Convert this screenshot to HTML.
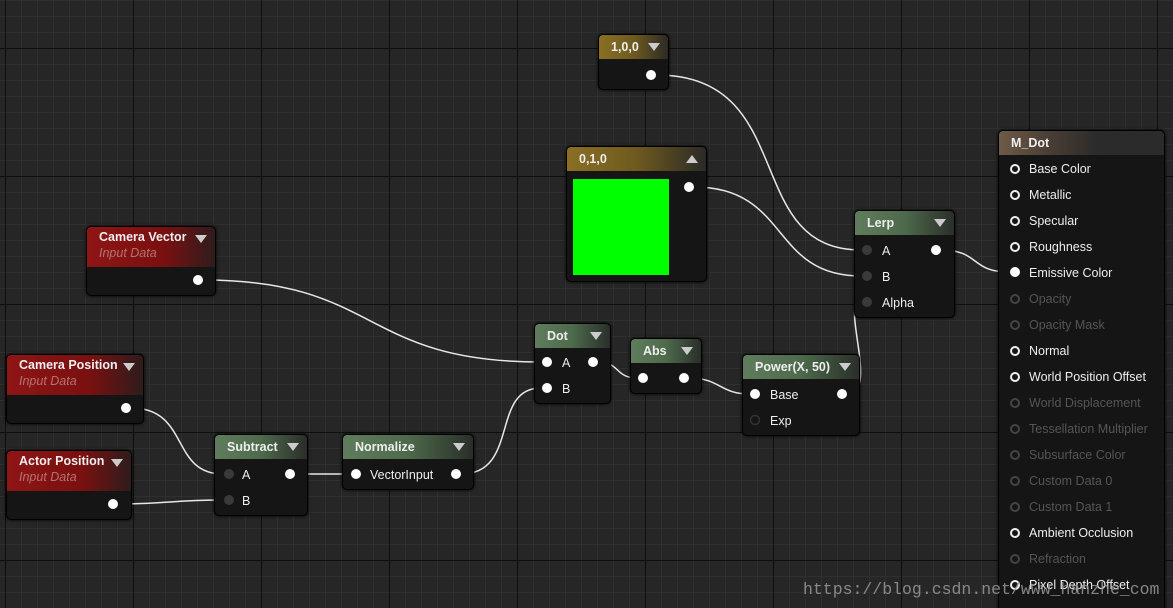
<!DOCTYPE html>
<html style="overflow:hidden"><head><meta charset="utf-8"><style>
html,body{margin:0;width:1173px;height:608px;overflow:hidden;}
body{background:#262626;font-family:"Liberation Sans",sans-serif;position:relative}
#bg{position:absolute;left:0;top:0;width:1173px;height:608px;
background-image:
linear-gradient(to right,#0f0f0f 1px,transparent 1px),
linear-gradient(to bottom,#0f0f0f 1px,transparent 1px),
linear-gradient(to right,#2f2f2f 1px,transparent 1px),
linear-gradient(to bottom,#2f2f2f 1px,transparent 1px);
background-size:128px 128px,128px 128px,16px 16px,16px 16px;
background-position:5px 48px,5px 48px,5px 0px,5px 0px;}
.n{position:absolute;background:#141514;border:1px solid #000;border-radius:5px;box-shadow:0 0 3px #000;overflow:hidden}
.h{height:24px;color:#eee;font-weight:bold;font-size:12.5px;line-height:24px;padding-left:12px;position:relative}
.g{background:linear-gradient(to right,#5f7d5c 0%,#4d6a4b 50%,#2a2e2a 100%)}
.r{background:linear-gradient(to right,#8e1515 0%,#7a1010 60%,#2e1c1c 100%);height:40px;line-height:20px}
.y{background:linear-gradient(to right,#8a6f24 0%,#6e5a1f 50%,#2b2a26 100%)}
.b{background:linear-gradient(to right,#6e5a48 0%,#4a3e34 30%,#2b2b2b 60%)}
.sub{font-style:italic;font-weight:normal;color:#c99;font-size:12.5px;display:block;margin-top:-4px;opacity:.7}
.tri{position:absolute;right:8px;top:8px;width:0;height:0;border-left:6px solid transparent;border-right:6px solid transparent;border-top:8px solid #ccc}
.up{border-top:none;border-bottom:8px solid #ccc}
.t{position:absolute;color:#eee;font-size:12.5px}
.d{color:#555}
</style></head><body>
<div id="bg"></div>
<svg width="1173" height="608" style="position:absolute;left:0;top:0;z-index:1" fill="none" stroke="#e8e8e8" stroke-width="1.5">
<path d="M203,280 C380,280 360,362 541,362"/>
<path d="M131,408 C190,408 170,474 223,474"/>
<path d="M118,504 C170,504 170,500 223,500"/>
<path d="M295,474 C320,474 320,474 350,474"/>
<path d="M461,474 C520,474 490,388 541,388"/>
<path d="M598,362 C620,362 615,378 637,378"/>
<path d="M689,378 C720,378 720,394 749,394"/>
<path d="M847,394 C880,394 840,302 861,302"/>
<path d="M656,75 C800,75 740,250 861,250"/>
<path d="M694,187 C790,187 770,276 861,276"/>
<path d="M941,250 C980,250 970,272 1009,272"/>
</svg>
<div style="position:absolute;left:0;top:0;width:1173px;height:608px;overflow:hidden;z-index:2">
<div class="n" style="left:86px;top:226px;width:128px;height:68px"><div class="h r">Camera Vector<span class="sub">Input Data</span><i class="tri"></i></div></div>
<div class="n" style="left:6px;top:354px;width:136px;height:68px"><div class="h r">Camera Position<span class="sub">Input Data</span><i class="tri"></i></div></div>
<div class="n" style="left:6px;top:450px;width:124px;height:68px"><div class="h r">Actor Position<span class="sub">Input Data</span><i class="tri"></i></div></div>
<div class="n" style="left:214px;top:434px;width:92px;height:80px"><div class="h g">Subtract<i class="tri"></i></div><span class="t" style="left:27px;top:33px">A</span><span class="t" style="left:27px;top:59px">B</span></div>
<div class="n" style="left:342px;top:434px;width:130px;height:54px"><div class="h g">Normalize<i class="tri"></i></div><span class="t" style="left:27px;top:33px">VectorInput</span></div>
<div class="n" style="left:534px;top:323px;width:75px;height:79px"><div class="h g">Dot<i class="tri"></i></div><span class="t" style="left:27px;top:32px">A</span><span class="t" style="left:27px;top:58px">B</span></div>
<div class="n" style="left:630px;top:338px;width:70px;height:54px"><div class="h g">Abs<i class="tri"></i></div></div>
<div class="n" style="left:742px;top:354px;width:116px;height:80px"><div class="h g">Power(X, 50)<i class="tri"></i></div><span class="t" style="left:27px;top:33px">Base</span><span class="t" style="left:27px;top:59px">Exp</span></div>
<div class="n" style="left:854px;top:210px;width:99px;height:106px"><div class="h g">Lerp<i class="tri"></i></div><span class="t" style="left:27px;top:33px">A</span><span class="t" style="left:27px;top:59px">B</span><span class="t" style="left:27px;top:85px">Alpha</span></div>
<div class="n" style="left:598px;top:34px;width:69px;height:54px"><div class="h y">1,0,0<i class="tri"></i></div></div>
<div class="n" style="left:566px;top:146px;width:139px;height:134px"><div class="h y">0,1,0<i class="tri up"></i></div><div style="position:absolute;left:6px;top:32px;width:96px;height:96px;background:#00ff00"></div></div>
<div class="n" style="left:998px;top:130px;width:165px;height:490px"><div class="h b">M_Dot</div>
<span class="t" style="left:30px;top:31px">Base Color</span>
<span class="t" style="left:30px;top:57px">Metallic</span>
<span class="t" style="left:30px;top:83px">Specular</span>
<span class="t" style="left:30px;top:109px">Roughness</span>
<span class="t" style="left:30px;top:135px">Emissive Color</span>
<span class="t d" style="left:30px;top:161px">Opacity</span>
<span class="t d" style="left:30px;top:187px">Opacity Mask</span>
<span class="t" style="left:30px;top:213px">Normal</span>
<span class="t" style="left:30px;top:239px">World Position Offset</span>
<span class="t d" style="left:30px;top:265px">World Displacement</span>
<span class="t d" style="left:30px;top:291px">Tessellation Multiplier</span>
<span class="t d" style="left:30px;top:317px">Subsurface Color</span>
<span class="t d" style="left:30px;top:343px">Custom Data 0</span>
<span class="t d" style="left:30px;top:369px">Custom Data 1</span>
<span class="t" style="left:30px;top:395px">Ambient Occlusion</span>
<span class="t d" style="left:30px;top:421px">Refraction</span>
<span class="t" style="left:30px;top:447px">Pixel Depth Offset</span>
</div>
</div>
<svg width="1173" height="608" style="position:absolute;left:0;top:0;z-index:3">
<g fill="#fff">
<circle cx="198" cy="280" r="5"/><circle cx="126" cy="408" r="5"/><circle cx="113" cy="504" r="5"/>
<circle cx="290" cy="474" r="5"/><circle cx="356" cy="474" r="5"/><circle cx="456" cy="474" r="5"/>
<circle cx="547" cy="362" r="5"/><circle cx="547" cy="388" r="5"/><circle cx="593" cy="362" r="5"/>
<circle cx="643" cy="378" r="5"/><circle cx="684" cy="378" r="5"/>
<circle cx="755" cy="394" r="5"/><circle cx="842" cy="394" r="5"/>
<circle cx="936" cy="250" r="5"/><circle cx="651" cy="75" r="5"/><circle cx="689" cy="187" r="5"/>
<circle cx="1015" cy="272" r="5"/>
</g>
<g fill="#3a3a3a"><circle cx="229" cy="474" r="5"/><circle cx="229" cy="500" r="5"/><circle cx="867" cy="250" r="5"/><circle cx="867" cy="276" r="5"/><circle cx="867" cy="302" r="5"/></g>
<circle cx="755" cy="420" r="4.5" fill="none" stroke="#333" stroke-width="1.5"/>
<g fill="none" stroke="#eee" stroke-width="2">
<circle cx="1015" cy="169" r="4"/><circle cx="1015" cy="195" r="4"/><circle cx="1015" cy="221" r="4"/><circle cx="1015" cy="247" r="4"/>
<circle cx="1015" cy="351" r="4"/><circle cx="1015" cy="377" r="4"/><circle cx="1015" cy="533" r="4"/><circle cx="1015" cy="585" r="4"/>
</g>
<g fill="none" stroke="#444" stroke-width="2">
<circle cx="1015" cy="299" r="4"/><circle cx="1015" cy="325" r="4"/><circle cx="1015" cy="403" r="4"/><circle cx="1015" cy="429" r="4"/>
<circle cx="1015" cy="455" r="4"/><circle cx="1015" cy="481" r="4"/><circle cx="1015" cy="507" r="4"/><circle cx="1015" cy="559" r="4"/>
</g>
<text x="803" y="594" font-family="Liberation Mono,monospace" font-size="16.5" fill="#9a9a9a" opacity="0.85">https://blog.csdn.net/www_hanzhe_com</text>
</svg>
</body></html>
